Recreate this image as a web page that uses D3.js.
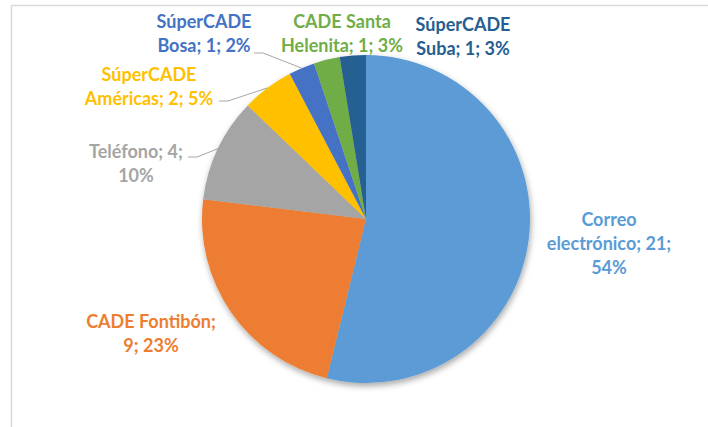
<!doctype html>
<meta charset="utf-8">

<style>
    body {
        margin: 0;
        background: #fff;
    }

    text {
        font-family: Lato, sans-serif;
        font-weight: bold;
        font-size: 18px;
    }
</style>

<div id="chart"></div>

<script src="https://d3js.org/d3.v7.min.js"></script>

<script>

// chart data
let categories = ["Correo electrónico", "CADE Fontibón", "Teléfono", "SúperCADE Américas",
    "SúperCADE Bosa", "CADE Santa Helenita", "SúperCADE Suba"]
let values = [21, 9, 4, 2, 1, 1, 1]
let percents = ["54%", "23%", "10%", "5%", "2%", "3%", "3%"]
let colors = ["#5B9BD5", "#ED7D31", "#A5A5A5", "#FFC000", "#4472C4", "#70AD47", "#255E91"]

// label lines as Excel wrapped them
let labelLines = [
    ["Correo", "electrónico; 21;", "54%"],
    ["CADE Fontibón;", "9; 23%"],
    ["Teléfono; 4;", "10%"],
    ["SúperCADE", "Américas; 2; 5%"],
    ["SúperCADE", "Bosa; 1; 2%"],
    ["CADE Santa", "Helenita; 1; 3%"],
    ["SúperCADE", "Suba; 1; 3%"]
]

// layout (label block centre, first baseline) + leader start
let labelLayout = [
    {x: 609, y: 226, leader: null},
    {x: 151, y: 328, leader: null},
    {x: 136, y: 158, leader: [188, 157]},
    {x: 149, y: 81,  leader: [219, 101]},
    {x: 204, y: 28,  leader: [254, 53]},
    {x: 342, y: 28,  leader: null},
    {x: 463, y: 31,  leader: null}
]

let width = 708, height = 427
let cx = 366, cy = 219, radius = 164
let lineHeight = 24

let svg = d3.select("#chart")
    .append("svg")
    .attr("width", width)
    .attr("height", height)

// chart frame (runs off the right and bottom)
svg.append("rect")
    .attr("x", 11.5)
    .attr("y", 5.5)
    .attr("width", width + 10)
    .attr("height", height + 10)
    .attr("fill", "none")
    .attr("stroke", "#d9d9d9")
    .attr("stroke-width", 1.5)

let filter = svg.append("defs")
    .append("filter")
    .attr("id", "shadow")
    .attr("x", "-20%").attr("y", "-20%")
    .attr("width", "140%").attr("height", "140%")
filter.append("feDropShadow")
    .attr("dx", 1)
    .attr("dy", 3)
    .attr("stdDeviation", 3)
    .attr("flood-color", "#000")
    .attr("flood-opacity", 0.35)

let pie = d3.pie().sort(null).value(d => d)
let arcs = pie(values)

let arc = d3.arc().innerRadius(0).outerRadius(radius)
let edgeArc = d3.arc().innerRadius(radius).outerRadius(radius)

let pieGroup = svg.append("g")
    .attr("transform", "translate(" + cx + "," + cy + ")")

pieGroup.append("g")
    .attr("filter", "url(#shadow)")
    .selectAll("path")
    .data(arcs)
    .join("path")
    .attr("d", arc)
    .attr("fill", (d, i) => colors[i])

// leader lines
arcs.forEach((a, i) => {
    let l = labelLayout[i].leader
    if (!l) return
    let end = edgeArc.centroid(a)
    let sx = l[0] - cx, sy = l[1] - cy
    pieGroup.append("polyline")
        .attr("points", [[sx, sy], [sx + 9, sy], end].map(p => p.join(",")).join(" "))
        .attr("fill", "none")
        .attr("stroke", "#a6a6a6")
        .attr("stroke-width", 1)
})

// data labels
let labels = svg.append("g")
    .selectAll("text")
    .data(categories)
    .join("text")
    .attr("x", (d, i) => labelLayout[i].x)
    .attr("y", (d, i) => labelLayout[i].y)
    .attr("text-anchor", "middle")
    .attr("fill", (d, i) => colors[i])

labels.each(function(d, i) {
    d3.select(this)
        .selectAll("tspan")
        .data(labelLines[i])
        .join("tspan")
        .attr("x", labelLayout[i].x)
        .attr("dy", (t, j) => j == 0 ? 0 : lineHeight)
        .text(t => t)
})

</script>
